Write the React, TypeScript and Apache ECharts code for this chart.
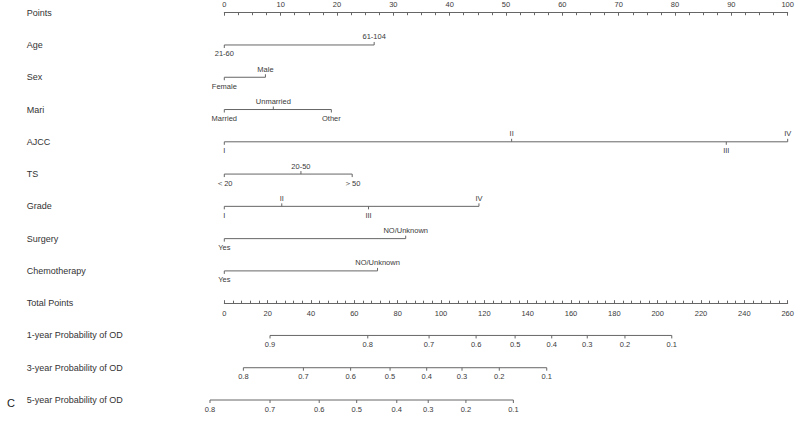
import React, { useEffect, useRef } from "react";
import * as echarts from "echarts";

const rowLabels = [
  "Points",
  "Age",
  "Sex",
  "Mari",
  "AJCC",
  "TS",
  "Grade",
  "Surgery",
  "Chemotherapy",
  "Total Points",
  "1-year Probability of OD",
  "3-year Probability of OD",
  "5-year Probability of OD",
];

const pointsMax = 100;
const pointsStep = 10;
const totalMax = 260;
const totalStep = 20;

const ageLevels = ["21-60", "61-104"];
const agePoints = [0, 26.6];
const sexLevels = ["Female", "Male"];
const sexPoints = [0, 7.3];
const mariLevels = ["Married", "Unmarried", "Other"];
const mariPoints = [0, 8.7, 19.0];
const ajccLevels = ["I", "II", "III", "IV"];
const ajccPoints = [0, 51.0, 89.1, 100];
const tsLevels = ["＜20", "20-50", "＞50"];
const tsPoints = [0, 13.6, 22.7];
const gradeLevels = ["I", "II", "III", "IV"];
const gradePoints = [0, 10.2, 25.6, 45.2];
const surgeryLevels = ["Yes", "NO/Unknown"];
const surgeryPoints = [0, 32.2];
const chemoLevels = ["Yes", "NO/Unknown"];
const chemoPoints = [0, 27.2];

const prob1Labels = ["0.9", "0.8", "0.7", "0.6", "0.5", "0.4", "0.3", "0.2", "0.1"];
const prob1Total = [21.1, 66.2, 94.5, 116.2, 134.2, 151.1, 167.5, 184.9, 206.5];
const prob3Labels = ["0.8", "0.7", "0.6", "0.5", "0.4", "0.3", "0.2", "0.1"];
const prob3Total = [8.8, 36.5, 58.3, 76.5, 93.4, 109.7, 126.9, 148.8];
const prob5Labels = ["0.8", "0.7", "0.6", "0.5", "0.4", "0.3", "0.2", "0.1"];
const prob5Total = [-6.6, 21.1, 43.8, 61.1, 79.6, 94.1, 111.5, 133.4];

const LINE = "#666666";
const TEXT = "#3a3a3a";
const FONT = "'Liberation Sans', Arial, sans-serif";
const TICK_FS = 7.5;

function makeRow(
  row: number,
  xs: number[],
  labels: string[],
  xAxisIndex: number,
  alternate: boolean
) {
  const minX = Math.min(...xs);
  const maxX = Math.max(...xs);
  return {
    type: "custom",
    xAxisIndex,
    yAxisIndex: 0,
    clip: false,
    silent: true,
    color: TEXT,
    itemStyle: { color: TEXT },
    data: xs.map((x, i) => [x, row, i]),
    renderItem: (_params: any, api: any) => {
      const i = api.value(2);
      const p = api.coord([api.value(0), api.value(1)]);
      const above = alternate && i % 2 === 1;
      const dir = above ? -1 : 1;
      const children: any[] = [];
      if (i === 0) {
        const a = api.coord([minX, row]);
        const b = api.coord([maxX, row]);
        children.push({
          type: "line",
          shape: { x1: a[0], y1: a[1], x2: b[0], y2: b[1] },
          style: { stroke: LINE, lineWidth: 1, fill: null },
        });
      }
      children.push({
        type: "line",
        shape: { x1: p[0], y1: p[1], x2: p[0], y2: p[1] + dir * 3 },
        style: { stroke: LINE, lineWidth: 1, fill: null },
      });
      children.push({
        type: "text",
        x: p[0],
        y: above ? p[1] - 4 : p[1] + 5,
        style: {
          text: labels[i],
          align: "center",
          verticalAlign: above ? "bottom" : "top",
          fontSize: TICK_FS,
          fontFamily: FONT,
          fill: TEXT,
        },
      });
      return { type: "group", children };
    },
  };
}

export default function App() {
  const ref = useRef<HTMLDivElement>(null);
  useEffect(() => {
    if (!ref.current) return;
    const chart = echarts.init(ref.current, undefined, { renderer: "svg" });
    const gridTop = 12.7;
    const gridHeight = 387.3;
    const rowH = gridHeight / (rowLabels.length - 1);
    const option: any = {
      animation: false,
      backgroundColor: "#ffffff",
      color: [TEXT],
      textStyle: { fontFamily: FONT },
      grid: { left: 224.3, top: gridTop, width: 563.4, height: gridHeight },
      xAxis: [
        {
          type: "value",
          position: "top",
          min: 0,
          max: pointsMax,
          interval: pointsStep,
          axisLine: { show: true, onZero: false, lineStyle: { color: LINE, width: 1 } },
          axisTick: { show: true, inside: true, length: 3, lineStyle: { color: LINE } },
          minorTick: { show: true, splitNumber: 4, length: 2.5, lineStyle: { color: LINE } },
          axisLabel: { fontSize: TICK_FS, color: TEXT, margin: 4, fontFamily: FONT },
          splitLine: { show: false },
        },
        {
          type: "value",
          position: "bottom",
          offset: -rowH * 3,
          min: 0,
          max: totalMax,
          interval: totalStep,
          axisLine: { show: true, onZero: false, lineStyle: { color: LINE, width: 1 } },
          axisTick: { show: true, inside: true, length: 3, lineStyle: { color: LINE } },
          minorTick: { show: true, splitNumber: 5, length: 2.5, lineStyle: { color: LINE } },
          axisLabel: { fontSize: TICK_FS, color: TEXT, margin: 6, fontFamily: FONT },
          splitLine: { show: false },
        },
      ],
      yAxis: {
        type: "value",
        min: 0,
        max: rowLabels.length - 1,
        interval: 1,
        inverse: true,
        axisLine: { show: false },
        axisTick: { show: false },
        splitLine: { show: false },
        axisLabel: {
          formatter: (v: number) => rowLabels[v] ?? "",
          align: "left",
          margin: 197.5,
          fontSize: 9,
          color: "#333333",
          fontFamily: FONT,
          padding: [3, 0, 0, 0],
        },
      },
      series: [
        makeRow(1, agePoints, ageLevels, 0, true),
        makeRow(2, sexPoints, sexLevels, 0, true),
        makeRow(3, mariPoints, mariLevels, 0, true),
        makeRow(4, ajccPoints, ajccLevels, 0, true),
        makeRow(5, tsPoints, tsLevels, 0, true),
        makeRow(6, gradePoints, gradeLevels, 0, true),
        makeRow(7, surgeryPoints, surgeryLevels, 0, true),
        makeRow(8, chemoPoints, chemoLevels, 0, true),
        makeRow(10, prob1Total, prob1Labels, 1, false),
        makeRow(11, prob3Total, prob3Labels, 1, false),
        makeRow(12, prob5Total, prob5Labels, 1, false),
      ],
      graphic: [
        {
          type: "text",
          left: 7,
          top: 397,
          style: { text: "C", fontSize: 11, fill: "#222222", fontFamily: FONT },
        },
      ],
    };
    chart.setOption(option);
    return () => chart.dispose();
  }, []);
  return (
    <div
      ref={ref}
      style={{ position: "fixed", left: 0, top: 0, width: 800, height: 421 }}
    />
  );
}
